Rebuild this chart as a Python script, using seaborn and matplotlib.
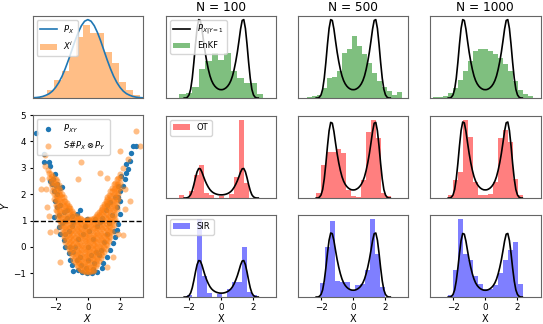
import numpy as np
import matplotlib
matplotlib.use("Agg")
import matplotlib.pyplot as plt
import seaborn as sns

# ---- data ----
# marginal P_X (top-left panel) and samples X^i
px_x = np.round(np.arange(-3.4, 3.41, 0.2), 2)
px_y = [0.0012, 0.0024, 0.0044, 0.008, 0.014, 0.022, 0.035, 0.054, 0.079, 0.111,
        0.150, 0.194, 0.242, 0.290, 0.333, 0.368, 0.391, 0.399, 0.391, 0.368,
        0.333, 0.290, 0.242, 0.194, 0.150, 0.111, 0.079, 0.054, 0.035, 0.022,
        0.014, 0.008, 0.0044, 0.0024, 0.0012]
xi_start, xi_width = -3.4, 0.443
xi_hist = [0.005, 0.012, 0.039, 0.093, 0.138, 0.21, 0.31, 0.37, 0.33, 0.33, 0.236,
           0.177, 0.084, 0.042, 0.017, 0.005]

# conditional density P_{X|Y=1}
cond_x = np.round(np.arange(-2.3, 2.31, 0.1), 2)
cond_y = [0.0, 0.0, 0.006, 0.023, 0.064, 0.145, 0.261, 0.394, 0.510, 0.574,
          0.568, 0.505, 0.418, 0.336, 0.267, 0.209, 0.162, 0.128, 0.104, 0.087,
          0.075, 0.067, 0.062, 0.061, 0.062, 0.067, 0.075, 0.087, 0.104, 0.128,
          0.162, 0.209, 0.267, 0.336, 0.418, 0.505, 0.568, 0.574, 0.510, 0.394,
          0.261, 0.145, 0.064, 0.023, 0.006, 0.0, 0.0]

sample_sizes = [100, 500, 1000]
methods = ["EnKF", "OT", "SIR"]
method_colors = {"EnKF": "g", "OT": "r", "SIR": "b"}

# histogram heights (density) with (bin start, bin width)
enkf_100 = [0.0, 0.032, 0.04, 0.08, 0.21, 0.27, 0.33, 0.28, 0.33, 0.20, 0.15, 0.11, 0.11, 0.032]
enkf_500 = [0.0, 0.006, 0.012, 0.024, 0.072, 0.145, 0.157, 0.199, 0.332, 0.356, 0.452,
            0.380, 0.320, 0.259, 0.181, 0.121, 0.084, 0.048, 0.024, 0.042]
enkf_1000 = [0.006, 0.009, 0.012, 0.036, 0.072, 0.133, 0.199, 0.271, 0.344, 0.362, 0.356,
             0.344, 0.320, 0.295, 0.247, 0.199, 0.121, 0.060, 0.030, 0.012]
ot_100 = [0.059, 0.0, 0.143, 0.445, 0.636, 0.091, 0.059, 0.0, 0.04, 0.0, 0.072, 0.413, 1.526, 0.286]
ot_500 = [0.035, 0.248, 0.350, 0.350, 0.372, 0.341, 0.062, 0.012, 0.006, 0.136, 0.502,
          0.595, 0.453, 0.037, 0.012]
ot_1000 = [0.025, 0.136, 0.197, 0.592, 0.463, 0.123, 0.025, 0.025, 0.031, 0.123, 0.450,
           0.512, 0.426, 0.142, 0.019]
sir_100 = [0.026, 0.0, 1.235, 0.325, 0.065, 0.0, 0.052, 0.0, 0.13, 0.234, 0.234, 0.793, 0.078, 0.039]
sir_500 = [0.126, 0.451, 0.681, 0.148, 0.133, 0.133, 0.059, 0.104, 0.118, 0.244, 0.703, 0.385, 0.089]
sir_1000 = [0.022, 0.246, 0.708, 0.387, 0.335, 0.186, 0.119, 0.075, 0.075, 0.104, 0.216,
            0.335, 0.425, 0.499, 0.119]

hists = {
    ("EnKF", 100): (enkf_100, -3.0, 0.4),
    ("EnKF", 500): (enkf_500, -3.17, 0.309),
    ("EnKF", 1000): (enkf_1000, -3.22, 0.309),
    ("OT", 100): (ot_100, -2.63, 0.309),
    ("OT", 500): (ot_500, -2.30, 0.309),
    ("OT", 1000): (ot_1000, -2.29, 0.309),
    ("SIR", 100): (sir_100, -2.12, 0.309),
    ("SIR", 500): (sir_500, -2.04, 0.309),
    ("SIR", 1000): (sir_1000, -2.29, 0.309),
}

# joint samples P_XY (blue)
blue_pts = [(-3.19, 4.3), (-2.73, 3.53), (-2.73, 3.22), (-2.43, 3.22), (-2.32, 3.07), (-2.32, 2.51),
            (-2.16, 2.57), (-2.02, 2.76), (-1.91, 2.38), (-1.71, 2.25), (-1.6, 2.28), (-2.12, 2.13),
            (-2.02, 1.75), (-1.91, 1.5), (-1.5, 1.32), (-1.3, 1.38), (-0.99, 1.19), (-0.68, 1.25),
            (-0.48, 1.38), (-0.89, 0.94), (-0.07, 1.07), (0.45, 1.07), (0.75, 0.94), (-2.12, 1.13),
            (-1.81, 0.75), (-1.71, 0.5), (-1.5, 0.25), (-1.4, 0.0), (-1.19, -0.25), (-1.09, -0.5),
            (-0.99, -0.69), (-0.89, -0.9), (-0.58, -0.87), (-0.38, -0.97), (-0.07, -1.0), (0.24, -1.0),
            (0.55, -0.96), (0.85, -0.81), (0.96, -0.62), (1.17, -0.37), (1.37, -0.12), (1.58, 0.13),
            (1.68, 0.38), (1.78, 0.63), (1.88, 0.88), (1.98, 1.25), (2.02, 1.75), (1.98, 2.13),
            (2.18, 2.32), (2.28, 2.57), (2.35, 2.82), (2.5, 2.94), (2.4, 3.13), (2.6, 3.26),
            (2.71, 3.57), (2.81, 3.82), (3.01, 3.82), (2.08, 2.7), (1.88, 1.88), (1.78, 1.5),
            (-1.9, 2.0), (-1.5, 1.0), (-1.2, 0.6), (-0.8, 0.0), (-0.5, -0.4), (0.0, -0.5),
            (0.4, -0.6), (0.8, -0.1), (1.2, 0.5), (1.5, 1.2), (1.7, 1.9), (-1.0, 0.8), (-0.3, 0.5),
            (0.3, 0.3), (0.6, 0.8), (-1.7, 1.6), (1.4, 1.7), (0.0, 0.0), (-0.6, 0.3), (1.0, 0.2),
            (-1.3, 1.1), (-2.0, 2.3), (1.85, 2.3), (0.2, -0.3), (-0.2, 0.8), (0.9, 1.1), (-1.1, 0.0),
            (1.1, 1.4), (-1.6, 0.9), (-0.9, -0.2), (0.5, -0.2), (-0.4, -0.7), (0.1, 0.6),
            (-2.2, 2.4), (1.3, 0.9), (-0.7, -0.5), (0.7, -0.3), (-1.4, 0.5), (1.6, 0.6),
            (-0.1, -0.8), (0.3, -0.85), (1.2, 1.6), (-1.8, 1.2)]

# transported samples S#P_X x P_Y (orange): dense columns + stray points
orange_cols_x = [-2.4, -2.3, -2.2, -2.1, -2.0, -1.9, -1.8, -1.7, -1.6, -1.5, -1.4, -1.3, -1.2,
                 -1.1, -1.0, -0.9, -0.8, -0.7, -0.6, -0.5, -0.4, -0.3, -0.2, -0.1, 0.0, 0.1,
                 0.2, 0.3, 0.4, 0.5, 0.6, 0.7, 0.8, 0.9, 1.0, 1.1, 1.2, 1.3, 1.4, 1.5, 1.6,
                 1.7, 1.8, 1.9, 2.0]
orange_cols_y = [
    [2.62, 2.8],
    [2.42, 2.6, 2.78],
    [2.12, 2.3, 2.5, 2.7],
    [1.82, 2.02, 2.2, 2.41, 2.6],
    [1.38, 1.57, 1.78, 1.97, 2.17, 2.37, 2.56],
    [1.17, 1.36, 1.55, 1.76, 1.94, 2.15, 2.33, 2.48],
    [1.02, 1.22, 1.41, 1.61, 1.8, 2.0, 2.19, 2.33],
    [0.78, 0.97, 1.17, 1.36, 1.56, 1.75, 1.95, 2.14],
    [0.53, 0.72, 0.92, 1.11, 1.31, 1.5, 1.7, 1.89, 2.02],
    [0.37, 0.57, 0.76, 0.96, 1.15, 1.35, 1.54, 1.74, 1.88],
    [0.19, 0.38, 0.58, 0.77, 0.97, 1.16, 1.36, 1.55, 1.75],
    [0.02, 0.22, 0.41, 0.61, 0.8, 1.0, 1.19, 1.39, 1.58, 1.66],
    [-0.08, 0.11, 0.31, 0.5, 0.7, 0.89, 1.09, 1.28, 1.48, 1.56],
    [-0.2, -0.01, 0.19, 0.38, 0.58, 0.77, 0.97, 1.16, 1.36, 1.46],
    [-0.33, -0.13, 0.06, 0.26, 0.45, 0.65, 0.84, 1.04, 1.23, 1.36],
    [-0.48, -0.28, -0.09, 0.11, 0.3, 0.5, 0.69, 0.89, 1.08, 1.28],
    [-0.58, -0.39, -0.19, 0.0, 0.2, 0.39, 0.59, 0.78, 0.98, 1.17],
    [-0.68, -0.49, -0.29, -0.1, 0.1, 0.29, 0.49, 0.68, 0.88, 1.07, 1.16],
    [-0.76, -0.57, -0.37, -0.18, 0.02, 0.21, 0.41, 0.6, 0.8, 0.99, 1.11],
    [-0.85, -0.66, -0.46, -0.27, -0.07, 0.12, 0.32, 0.51, 0.71, 0.9, 1.08],
    [-0.88, -0.69, -0.49, -0.3, -0.1, 0.09, 0.29, 0.48, 0.68, 0.87, 1.05],
    [-0.91, -0.72, -0.52, -0.33, -0.13, 0.06, 0.26, 0.45, 0.65, 0.84, 1.03],
    [-0.93, -0.77, -0.57, -0.38, -0.18, 0.01, 0.21, 0.4, 0.6, 0.79, 0.99],
    [-0.94, -0.74, -0.55, -0.35, -0.16, 0.04, 0.23, 0.43, 0.62, 0.82, 1.01],
    [-0.93, -0.79, -0.6, -0.4, -0.21, -0.01, 0.18, 0.38, 0.57, 0.77, 0.96, 1.04],
    [-0.94, -0.75, -0.55, -0.36, -0.16, 0.03, 0.23, 0.42, 0.62, 0.81, 1.01],
    [-0.93, -0.78, -0.58, -0.39, -0.19, 0.0, 0.2, 0.39, 0.59, 0.78, 0.98, 1.06],
    [-0.9, -0.71, -0.51, -0.32, -0.12, 0.07, 0.27, 0.46, 0.66, 0.85, 1.05],
    [-0.86, -0.67, -0.47, -0.28, -0.08, 0.11, 0.31, 0.5, 0.7, 0.89, 1.09],
    [-0.73, -0.54, -0.34, -0.15, 0.05, 0.24, 0.44, 0.63, 0.83, 1.02, 1.16],
    [-0.63, -0.44, -0.24, -0.05, 0.15, 0.34, 0.54, 0.73, 0.93, 1.12, 1.23],
    [-0.53, -0.34, -0.14, 0.05, 0.25, 0.44, 0.64, 0.83, 1.03, 1.22, 1.31],
    [-0.43, -0.24, -0.04, 0.15, 0.35, 0.54, 0.74, 0.93, 1.13, 1.32, 1.4],
    [-0.31, -0.12, 0.08, 0.27, 0.47, 0.66, 0.86, 1.05, 1.25, 1.44, 1.5],
    [-0.2, -0.01, 0.19, 0.38, 0.58, 0.77, 0.97, 1.16, 1.36, 1.55, 1.61],
    [-0.08, 0.11, 0.31, 0.5, 0.7, 0.89, 1.09, 1.28, 1.48, 1.67, 1.74],
    [0.07, 0.26, 0.46, 0.65, 0.85, 1.04, 1.24, 1.43, 1.63, 1.82, 1.88],
    [0.22, 0.41, 0.61, 0.8, 1.0, 1.19, 1.39, 1.58, 1.78, 1.97],
    [0.37, 0.56, 0.76, 0.95, 1.15, 1.34, 1.54, 1.73, 1.93, 2.12],
    [0.57, 0.76, 0.96, 1.15, 1.35, 1.54, 1.74, 1.93, 2.13, 2.25],
    [0.82, 1.01, 1.21, 1.4, 1.6, 1.79, 1.99, 2.18, 2.37],
    [1.07, 1.26, 1.46, 1.65, 1.85, 2.04, 2.24, 2.43],
    [1.42, 1.61, 1.81, 2.0, 2.2, 2.39, 2.57],
    [1.82, 2.01, 2.21, 2.4, 2.6],
    [2.22, 2.41, 2.61, 2.78],
]
orange_stray = [(-2.83, 2.57), (-2.68, 3.5), (-2.63, 3.07), (-0.43, 3.2), (-0.63, 2.57),
                (-2.52, 1.5), (-2.43, 1.19), (-2.32, 0.57), (-1.71, -0.57), (1.17, 2.63),
                (1.98, 3.63), (2.5, 3.32), (3.01, 4.38), (3.21, 3.82), (2.18, 0.44),
                (2.28, 1.44), (1.58, -0.37), (1.17, -0.75), (2.6, 1.75), (-2.93, 2.19),
                (0.75, 2.82), (-2.45, 2.9), (2.2, 3.0), (-1.95, 0.6), (2.3, 2.2),
                (-2.6, 2.2), (1.9, 0.5)]

# ---- figure ----
plt.rcParams.update({
    "font.size": 6.3,
    "axes.edgecolor": "0.4",
    "axes.linewidth": 0.8,
    "xtick.major.size": 2.5,
    "ytick.major.size": 2.5,
    "xtick.major.pad": 2,
    "ytick.major.pad": 2,
    "legend.fontsize": 6,
})
fig = plt.figure(figsize=(5.43, 3.24), dpi=100)

col_left = [0.060, 0.3057, 0.5488, 0.7919]
row_bottom = [0.6975, 0.3889, 0.0833]
aw, ah = 0.2035, 0.254
xlim = (-3.43, 3.43)


def draw_hist(ax, heights, start, width, color, label=None):
    edges = start + width * np.arange(len(heights))
    ax.bar(edges, heights, width=width, align="edge", color=color, alpha=0.5,
           linewidth=0, label=label)


# top-left: marginal
ax = fig.add_axes([col_left[0], row_bottom[0], aw, ah])
sns.lineplot(x=px_x, y=px_y, ax=ax, color="C0", lw=1.2, label="$P_X$")
draw_hist(ax, xi_hist, xi_start, xi_width, "C1", label="$X^i$")
ax.set_xlim(xlim)
ax.set_xticks([])
ax.set_yticks([])
ax.set_xlabel("")
ax.legend(loc="upper left")

# joint scatter
ax = fig.add_axes([col_left[0], row_bottom[2], aw, 0.5617])
bx, by = zip(*blue_pts)
ox = [x for x, ys in zip(orange_cols_x, orange_cols_y) for _ in ys] + [p[0] for p in orange_stray]
oy = [y for ys in orange_cols_y for y in ys] + [p[1] for p in orange_stray]
sns.scatterplot(x=list(bx), y=list(by), ax=ax, color="C0", s=15, linewidth=0, label="$P_{XY}$")
sns.scatterplot(x=ox, y=oy, ax=ax, color="C1", s=19, linewidth=0, alpha=0.5,
                label=r"$S$#$P_X \otimes P_Y$")
ax.axhline(1.0, color="k", ls="--", lw=1)
ax.set_xlim(xlim)
ax.set_ylim(-1.9, 5.0)
ax.set_xticks([-2, 0, 2])
ax.set_yticks([-1, 0, 1, 2, 3, 4, 5])
ax.set_xlabel("$X$", fontsize=7, labelpad=0)
ax.set_ylabel("$Y$", fontsize=7, labelpad=2)
ax.legend(loc="upper left", scatterpoints=1)

# conditional panels
for j, n in enumerate(sample_sizes):
    for i, m in enumerate(methods):
        ax = fig.add_axes([col_left[j + 1], row_bottom[i], aw, ah])
        heights, start, width = hists[(m, n)]
        first = j == 0
        curve_label = "$P_{X|Y=1}$" if (first and i == 0) else None
        sns.lineplot(x=cond_x, y=cond_y, ax=ax, color="k", lw=1.2,
                     label=curve_label, legend=False)
        draw_hist(ax, heights, start, width, method_colors[m],
                  label=m if first else None)
        ax.set_xlim(xlim)
        ax.set_yticks([])
        if i == 2:
            ax.set_xticks([-2, 0, 2])
            ax.set_xlabel("X", fontsize=7, labelpad=1)
        else:
            ax.set_xticks([])
            ax.set_xlabel("")
        if i == 0:
            ax.set_title(f"N = {n}", fontsize=8.7, pad=3.5)
        if first:
            ax.legend(loc="upper left")

fig.savefig("out.png", dpi=100)
